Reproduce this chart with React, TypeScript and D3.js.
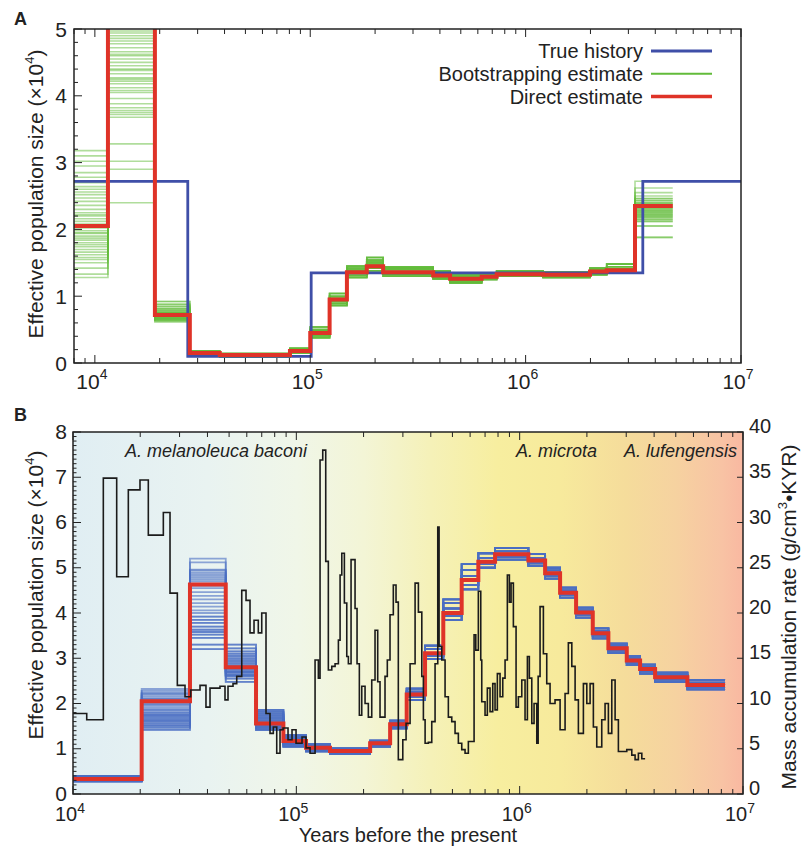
import React from "react";
import * as d3 from "d3";

// ---------- panel A: simulated history (years before present, Ne x10^4) ----------
const trueYears = [8000, 27000, 101000, 3500000, 10000000];
const trueNe = [2.72, 0.1, 1.35, 2.72];

const directYearsA = [8000, 11500, 19000, 27600, 38000, 80500, 100000, 123000, 148000, 183000, 218000, 372000, 446000, 625000, 734000, 1205000, 1990000, 2380000, 3220000, 4820000];
const directNeA = [2.05, 5.6, 0.72, 0.15, 0.12, 0.18, 0.45, 0.95, 1.36, 1.45, 1.36, 1.31, 1.26, 1.29, 1.33, 1.32, 1.37, 1.39, 2.35];

// bootstrap values per interval (one entry per replicate, cycled)
const bootNeA = [
  [1.28, 1.33, 1.42, 1.5, 1.55, 1.58, 1.62, 1.66, 1.7, 1.74, 1.77, 1.8, 1.84, 1.87, 1.9, 1.94, 1.98, 2.02, 2.08, 2.12, 2.16, 2.2, 2.25, 2.3, 2.36, 2.42, 2.47, 2.52, 2.56, 2.6, 2.64, 2.7, 2.78, 2.85, 2.95, 3.02, 3.1, 3.18, 1.95, 2.22],
  [2.4, 2.9, 3.02, 3.28, 3.68, 3.75, 3.78, 3.82, 3.88, 3.96, 4.05, 4.12, 4.18, 4.22, 4.27, 4.33, 4.4, 4.45, 4.5, 4.55, 4.6, 4.66, 4.72, 4.78, 4.82, 4.86, 4.9, 4.94, 4.97, 5.3, 5.6, 5.9, 6.3, 6.8, 7.2, 4.38, 4.08, 3.72, 4.25, 4.62],
  [0.62, 0.64, 0.65, 0.66, 0.67, 0.68, 0.69, 0.7, 0.71, 0.72, 0.73, 0.74, 0.75, 0.76, 0.78, 0.8, 0.82, 0.85, 0.88, 0.92],
  [0.12, 0.13, 0.14, 0.15, 0.16, 0.17, 0.18],
  [0.09, 0.1, 0.11, 0.12, 0.13, 0.14],
  [0.15, 0.17, 0.18, 0.19, 0.2, 0.22],
  [0.38, 0.41, 0.44, 0.46, 0.48, 0.5, 0.54],
  [0.86, 0.89, 0.92, 0.95, 0.97, 1.0, 1.04],
  [1.28, 1.31, 1.34, 1.37, 1.39, 1.42, 1.45],
  [1.38, 1.42, 1.45, 1.48, 1.51, 1.54, 1.58],
  [1.3, 1.33, 1.35, 1.37, 1.4, 1.42, 1.44],
  [1.26, 1.28, 1.3, 1.32, 1.34, 1.36, 1.38],
  [1.2, 1.22, 1.24, 1.26, 1.28, 1.3, 1.32],
  [1.25, 1.27, 1.29, 1.3, 1.32, 1.34],
  [1.3, 1.31, 1.33, 1.34, 1.36, 1.38],
  [1.28, 1.29, 1.31, 1.32, 1.34, 1.36],
  [1.32, 1.34, 1.36, 1.38, 1.4, 1.42],
  [1.35, 1.37, 1.39, 1.41, 1.44, 1.48],
  [1.88, 2.05, 2.12, 2.15, 2.18, 2.2, 2.22, 2.24, 2.26, 2.28, 2.3, 2.32, 2.34, 2.36, 2.38, 2.4, 2.43, 2.46, 2.5, 2.55, 2.62, 2.72],
];

// ---------- panel B: giant panda Ne and loess mass accumulation rate ----------
const directYearsB = [10000, 20300, 33400, 48300, 66000, 87500, 110500, 141500, 214000, 263000, 312000, 377000, 455000, 550000, 653000, 776000, 1094000, 1300000, 1517000, 1789000, 2125000, 2496000, 3017000, 3461000, 4040000, 5636000, 8310000];
const directNeB = [0.33, 2.05, 4.63, 2.8, 1.56, 1.17, 1.02, 0.95, 1.12, 1.54, 2.2, 3.11, 4.0, 4.73, 5.13, 5.3, 5.16, 4.88, 4.45, 4.01, 3.55, 3.22, 2.95, 2.76, 2.58, 2.41];

const bootNeB = [
  [0.28, 0.3, 0.32, 0.35, 0.38, 0.4],
  [1.42, 1.47, 1.52, 1.56, 1.6, 1.64, 1.68, 1.72, 1.76, 1.8, 1.84, 1.88, 1.92, 1.96, 2.0, 2.04, 2.08, 2.12, 2.16, 2.2, 2.24, 2.28, 2.32, 1.5, 1.62, 1.74, 1.86, 1.98, 2.1, 2.22],
  [3.2, 3.3, 3.45, 3.52, 3.58, 3.63, 3.7, 3.78, 3.85, 3.92, 4.0, 4.06, 4.14, 4.22, 4.3, 4.38, 4.46, 4.55, 4.6, 4.65, 4.7, 4.74, 4.78, 4.82, 4.86, 4.9, 4.94, 4.96, 5.12, 5.2],
  [2.48, 2.55, 2.6, 2.64, 2.68, 2.72, 2.76, 2.8, 2.84, 2.88, 2.92, 2.96, 3.0, 3.05, 3.1, 3.15, 3.22, 3.3, 2.62, 2.7],
  [1.42, 1.46, 1.5, 1.54, 1.58, 1.62, 1.66, 1.7, 1.74, 1.78, 1.82, 1.86],
  [1.05, 1.1, 1.14, 1.18, 1.22, 1.26, 1.3],
  [0.94, 0.97, 1.0, 1.03, 1.06, 1.1],
  [0.89, 0.92, 0.95, 0.98, 1.01],
  [1.05, 1.08, 1.11, 1.14, 1.18],
  [1.45, 1.49, 1.53, 1.57, 1.62],
  [2.08, 2.14, 2.2, 2.26, 2.33],
  [2.98, 3.05, 3.12, 3.2, 3.28],
  [3.85, 3.93, 4.0, 4.1, 4.22, 4.3],
  [4.52, 4.62, 4.72, 4.82, 4.95, 5.08],
  [5.0, 5.08, 5.14, 5.22, 5.32],
  [5.18, 5.24, 5.3, 5.36, 5.44],
  [5.04, 5.1, 5.16, 5.22, 5.3],
  [4.76, 4.82, 4.88, 4.94, 5.0],
  [4.34, 4.4, 4.45, 4.5, 4.56],
  [3.9, 3.96, 4.01, 4.06, 4.12],
  [3.44, 3.5, 3.55, 3.6, 3.66],
  [3.12, 3.17, 3.22, 3.27, 3.32],
  [2.85, 2.9, 2.95, 3.0, 3.05],
  [2.66, 2.71, 2.76, 2.81, 2.86],
  [2.48, 2.53, 2.58, 2.63, 2.68],
  [2.31, 2.36, 2.41, 2.46, 2.52],
];

const massYears = [10000, 11520, 13670, 15690, 17690, 19950, 21740, 25380, 27190, 29320,
  31740, 33660, 37050, 39390, 41070, 45520, 47930, 49440, 52060, 54090,
  56960, 59530, 62030, 64650, 67560, 70000, 73150, 76240, 78880, 81700,
  84530, 87200, 91800, 95650, 99700, 106050, 110500, 115200, 121300, 125500,
  127700, 131300, 135400, 139100, 144100, 149100, 154300, 157000, 159800, 164100,
  168200, 171000, 175800, 183200, 187000, 191500, 196300, 203100, 210100, 217600,
  225100, 231400, 237000, 249500, 255500, 262700, 271800, 279500, 286200, 299700,
  310000, 323100, 340200, 352000, 364600, 370600, 377200, 390100, 404000, 418000,
  429800, 435700, 448000, 463400, 479400, 496500, 513700, 531500, 550400, 569500,
  589200, 625000, 636100, 653100, 669500, 676500, 699800, 716600, 736800, 757600,
  775800, 794500, 816900, 840000, 860200, 880800, 899300, 915200, 937200, 963600,
  986700, 1022000, 1057000, 1083000, 1105000, 1133000, 1160000, 1193000, 1210000, 1234000,
  1277000, 1322000, 1368000, 1440000, 1517000, 1597000, 1652000, 1712000, 1771000, 1832000,
  1929000, 1998000, 2067000, 2138000, 2214000, 2331000, 2412000, 2496000, 2585000, 2675000,
  2767000, 3017000, 3177000, 3287000, 3401000, 3523000, 3645000];
const massRate = [8.9, 8.2, 34.9, 24.0, 33.6, 34.7, 28.6, 31.1, 22.2, 12.0,
  10.75, 11.5, 12.0, 9.6, 11.7, 11.9, 10.4, 11.9, 12.2, 13.0,
  22.5, 21.4, 17.8, 19.2, 17.8, 20.0, 8.9, 6.7, 7.4, 4.5,
  7.1, 7.3, 6.0, 7.1, 5.6, 6.3, 5.1, 4.5, 14.8, 12.8,
  36.9, 38.0, 25.7, 13.7, 14.1, 14.4, 17.0, 24.2, 26.6, 21.1,
  15.2, 14.4, 25.9, 20.5, 14.4, 8.7, 11.9, 10.0, 8.5, 12.6,
  18.1, 12.4, 8.5, 13.0, 14.8, 19.8, 23.1, 21.2, 3.8, 6.0,
  7.8, 14.4, 23.3, 20.1, 13.0, 8.2, 5.6, 5.7, 8.0, 14.4,
  29.5, 16.3, 14.8, 10.75, 8.5, 8.0, 6.7, 5.6, 4.9, 4.5,
  5.8, 17.6, 15.9, 22.4, 14.8, 10.2, 8.7, 11.7, 9.1, 12.2,
  9.3, 13.3, 10.75, 12.8, 14.8, 24.2, 21.2, 23.3, 18.5, 9.6,
  10.75, 12.6, 8.2, 15.2, 12.8, 7.8, 10.0, 5.6, 13.0, 20.7,
  15.5, 12.2, 10.0, 10.4, 7.1, 11.1, 16.7, 14.1, 10.4, 6.7,
  12.2, 10.0, 12.2, 7.4, 5.2, 8.2, 10.0, 6.7, 12.6, 8.2,
  4.7, 4.9, 4.3, 3.8, 4.5, 3.9];

const speciesLabels = ["A. melanoleuca baconi", "A. microta", "A. lufengensis"];
const legendLabels = ["True history", "Bootstrapping estimate", "Direct estimate"];

const bgStops: [number, string][] = [
  [1e4, "#e0eef3"], [4e4, "#e9f3f1"], [1e5, "#f0f6e8"], [2e5, "#f3f5d6"], [4e5, "#f5f1b8"],
  [8e5, "#f7ee9f"], [1.5e6, "#f7ea9c"], [3e6, "#f5dc9b"], [5e6, "#f6d2a0"], [8e6, "#f8c3a4"], [1e7, "#f9b8a1"],
];

const FONT = "Liberation Sans, Arial, Helvetica, sans-serif";
const A = { left: 74, right: 741, top: 29, bottom: 363 };
const B = { left: 73, right: 743, top: 432, bottom: 794 };
const N_REP = 40;

const stepLine = d3.line<[number, number]>().curve(d3.curveStepAfter);
function steps(years: number[], vals: number[], x: (v: number) => number, y: (v: number) => number) {
  const pts: [number, number][] = vals.map((v, i) => [x(years[i]), y(v)]);
  pts.push([x(years[years.length - 1]), y(vals[vals.length - 1])]);
  return stepLine(pts) || "";
}
const isDecade = (t: number) => Math.abs(Math.log10(t) - Math.round(Math.log10(t))) < 1e-9;

function LogTicks({ x, top, bottom }: any) {
  return (
    <g stroke="#222" strokeWidth={1}>
      {x.ticks().map((t: number, i: number) => {
        const px = x(t);
        const len = isDecade(t) ? 8 : 5;
        return (
          <g key={i}>
            <line x1={px} x2={px} y1={bottom} y2={bottom - len} />
            <line x1={px} x2={px} y1={top} y2={top + len} />
          </g>
        );
      })}
    </g>
  );
}

function DecadeLabels({ x, y, size, sup }: any) {
  return (
    <g fontSize={size} fill="#222" textAnchor="middle">
      {x.ticks().filter(isDecade).map((t: number, i: number) => (
        <text key={i} x={x(t) - 3} y={y}>
          10<tspan fontSize={14} dy={-sup}>{Math.round(Math.log10(t))}</tspan>
        </text>
      ))}
    </g>
  );
}

export default function App() {
  const xA = d3.scaleLog().domain([8000, 1e7]).range([A.left, A.right]);
  const yA = d3.scaleLinear().domain([0, 5]).range([A.bottom, A.top]);
  const xB = d3.scaleLog().domain([1e4, 1e7]).range([B.left, B.right]);
  const yB = d3.scaleLinear().domain([0, 8]).range([B.bottom, B.top]);
  const yR = d3.scaleLinear().domain([0, 40]).range([B.bottom, B.top]);

  const repsA = d3.range(N_REP).map((i) => bootNeA.map((l) => l[i % l.length]));
  const repsB = d3.range(N_REP).map((i) => bootNeB.map((l) => l[i % l.length]));

  const minorA = d3.range(0, 5.001, 0.2);
  const minorB = d3.range(0, 8.001, 0.1);

  return (
    <svg width={801} height={847} style={{ position: "absolute", left: 0, top: 0, background: "#fff" }} fontFamily={FONT}>
      <defs>
        <clipPath id="clipA"><rect x={A.left} y={A.top} width={A.right - A.left} height={A.bottom - A.top} /></clipPath>
        <clipPath id="clipB"><rect x={B.left} y={B.top} width={B.right - B.left} height={B.bottom - B.top} /></clipPath>
        <linearGradient id="bgB" gradientUnits="userSpaceOnUse" x1={B.left} x2={B.right} y1={0} y2={0}>
          {bgStops.map(([t, c], i) => (
            <stop key={i} offset={(xB(t) - B.left) / (B.right - B.left)} stopColor={c} />
          ))}
        </linearGradient>
      </defs>

      {/* ---------------- Panel A ---------------- */}
      <text x={14} y={25} fontSize={18} fontWeight="bold" fill="#222">A</text>
      <g clipPath="url(#clipA)">
        {repsA.map((r, i) => (
          <path key={i} d={steps(directYearsA, r, xA, yA)} fill="none" stroke="#62bb3a" strokeOpacity={0.5} strokeWidth={1.6} />
        ))}
        <path d={steps(trueYears, trueNe, xA, yA)} fill="none" stroke="#3f4fa8" strokeWidth={2.8} />
        <path d={steps(directYearsA, directNeA, xA, yA)} fill="none" stroke="#df3328" strokeWidth={4} />
      </g>
      <rect x={A.left} y={A.top} width={A.right - A.left} height={A.bottom - A.top} fill="none" stroke="#222" strokeWidth={1.5} />
      <LogTicks x={xA} top={A.top} bottom={A.bottom} />
      <g stroke="#222">
        {minorA.map((v, i) => {
          const major = Math.abs(v - Math.round(v)) < 1e-6;
          return <line key={i} x1={A.left} x2={A.left + (major ? 8 : 4)} y1={yA(v)} y2={yA(v)} />;
        })}
      </g>
      <g fontSize={21} fill="#222" textAnchor="end">
        {yA.ticks(5).map((v) => (
          <text key={v} x={67} y={yA(v)} dy="0.36em">{v}</text>
        ))}
      </g>
      <DecadeLabels x={xA} y={389} size={21} sup={10} />
      <text transform={`translate(43,${(A.top + A.bottom) / 2 - 2}) rotate(-90)`} textAnchor="middle" fontSize={21} fill="#222">
        Effective population size (×10<tspan fontSize={13} dy={-9}>4</tspan><tspan dy={9}>)</tspan>
      </text>
      {/* legend */}
      <g fontSize={20} fill="#222">
        {legendLabels.map((lab, i) => {
          const y = 51 + i * 22.8;
          const col = ["#3f4fa8", "#62bb3a", "#df3328"][i];
          const w = [3, 2, 3.5][i];
          return (
            <g key={lab}>
              <text x={643} y={y} dy="0.36em" textAnchor="end">{lab}</text>
              <line x1={651} x2={712} y1={y} y2={y} stroke={col} strokeWidth={w} />
            </g>
          );
        })}
      </g>

      {/* ---------------- Panel B ---------------- */}
      <text x={14} y={421} fontSize={18} fontWeight="bold" fill="#222">B</text>
      <rect x={B.left} y={B.top} width={B.right - B.left} height={B.bottom - B.top} fill="url(#bgB)" />
      <g clipPath="url(#clipB)">
        {repsB.map((r, i) => (
          <path key={i} d={steps(directYearsB, r, xB, yB)} fill="none" stroke="#4a6ec3" strokeOpacity={0.6} strokeWidth={1.8} />
        ))}
        <path d={steps(directYearsB, directNeB, xB, yB)} fill="none" stroke="#df3328" strokeWidth={4} />
        <path d={steps(massYears, massRate, xB, yR)} fill="none" stroke="#1b1b1b" strokeWidth={1.6} />
      </g>
      <g fontSize={18} fontStyle="italic" fill="#222">
        <text x={125} y={457}>{speciesLabels[0]}</text>
        <text x={597} y={457} textAnchor="end">{speciesLabels[1]}</text>
        <text x={737} y={457} textAnchor="end">{speciesLabels[2]}</text>
      </g>
      <rect x={B.left} y={B.top} width={B.right - B.left} height={B.bottom - B.top} fill="none" stroke="#222" strokeWidth={1.5} />
      <LogTicks x={xB} top={B.top} bottom={B.bottom} />
      <g stroke="#222">
        {minorB.map((v, i) => {
          const major = Math.abs(v - Math.round(v)) < 1e-6;
          return <line key={i} x1={B.left} x2={B.left + (major ? 8 : 3.5)} y1={yB(v)} y2={yB(v)} />;
        })}
        {yR.ticks(8).map((v) => (
          <line key={v} x1={B.right} x2={B.right - 6} y1={yR(v)} y2={yR(v)} />
        ))}
      </g>
      <g fontSize={21} fill="#222" textAnchor="end">
        {yB.ticks(8).map((v) => (
          <text key={v} x={67} y={yB(v) - 1} dy="0.36em">{v}</text>
        ))}
      </g>
      <g fontSize={20} fill="#222" textAnchor="start">
        {yR.ticks(8).map((v) => (
          <text key={v} x={749} y={yR(v) - 6} dy="0.36em">{v}</text>
        ))}
      </g>
      <DecadeLabels x={xB} y={821} size={20} sup={8} />
      <text x={408} y={842} textAnchor="middle" fontSize={20} fill="#222">Years before the present</text>
      <text transform="translate(43,595) rotate(-90)" textAnchor="middle" fontSize={21} fill="#222">
        Effective population size (×10<tspan fontSize={13} dy={-9}>4</tspan><tspan dy={9}>)</tspan>
      </text>
      <text transform="translate(796,617) rotate(-90)" textAnchor="middle" fontSize={21} fill="#222">
        Mass accumulation rate (g/cm<tspan fontSize={13} dy={-9}>3</tspan><tspan dy={9}>•KYR)</tspan>
      </text>
    </svg>
  );
}
